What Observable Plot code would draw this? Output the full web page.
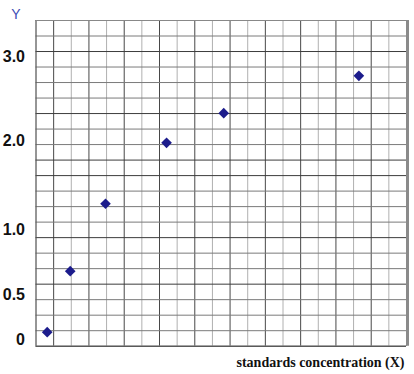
<!DOCTYPE html>
<html>
<head>
<meta charset="utf-8">
<script src="https://cdn.jsdelivr.net/npm/d3@7"></script>
<script src="https://cdn.jsdelivr.net/npm/@observablehq/plot@0.6"></script>
<style>
  html, body { margin: 0; padding: 0; background: #fff; }
  #chart svg { display: block; }
</style>
</head>
<body>
<div id="chart"></div>
<script>
// Standards concentration (x, in grid units) and measured response (y)
const xValues = [0.635, 1.94, 3.94, 7.40, 10.64, 18.30];
const yValues = [0.145, 0.776, 1.473, 2.103, 2.41, 2.796];

// Y tick labels as printed on the chart, at the heights where they appear
const yTickValues = [0.069, 0.535, 1.207, 2.127, 2.996];
const yTickLabels = ["0", "0.5", "1.0", "2.0", "3.0"];

const xTitle = "standards concentration (X)";
const yTitle = "Y";

const points = xValues.map((x, i) => ({x, y: yValues[i]}));

const X_CELLS = 21, Y_CELLS = 21, Y_MAX = 3.368;
const xGrid = d3.range(X_CELLS + 1);
const yGrid = d3.range(Y_CELLS + 1).map(i => i * Y_MAX / Y_CELLS);
const darkRows = new Set([4, 7, 11, 12, 15, 19]);

const chart = Plot.plot({
  width: 414,
  height: 374,
  marginLeft: 35.5,
  marginTop: 20,
  marginRight: 8,
  marginBottom: 28.3,
  style: {background: "#fff", fontFamily: "Liberation Sans, Arial, sans-serif"},
  x: {domain: [0, X_CELLS], axis: null},
  y: {domain: [0, Y_MAX], axis: null},
  marks: [
    // vertical grid lines
    Plot.ruleX(xGrid, {
      x: d => d,
      stroke: d => (d % 2 === 1 ? "#484848" : "#b0b0b0"),
      strokeWidth: 1
    }),
    // horizontal grid lines
    Plot.ruleY(yGrid, {
      y: d => d,
      stroke: (d, i) => (darkRows.has(i) ? "#3c3c3c" : "#7a7a7a"),
      strokeWidth: 1
    }),
    // frame edges
    Plot.ruleX([X_CELLS], {stroke: "#8a8a8a", strokeWidth: 3, dx: 1}),
    Plot.ruleX([0], {stroke: "#555", strokeWidth: 1}),
    Plot.ruleY([0], {stroke: "#3a3a3a", strokeWidth: 1}),
    Plot.ruleY([Y_MAX], {stroke: "#888", strokeWidth: 1}),
    // y tick labels
    Plot.axisY(yTickValues, {
      anchor: "left",
      tickSize: 0,
      tickPadding: 11,
      tickFormat: (d, i) => yTickLabels[i],
      fontSize: 16,
      fontWeight: "bold",
      fill: "#111",
      label: null
    }),
    // data points
    Plot.dot(points, {
      x: "x",
      y: "y",
      symbol: "diamond2",
      r: 4.8,
      fill: "#1c1c8c",
      stroke: "none"
    }),
    // axis titles
    Plot.text([yTitle], {
      frameAnchor: "top-left",
      dx: -20,
      dy: -6,
      textAnchor: "middle",
      lineAnchor: "middle",
      fontSize: 14,
      fill: "#3d4db5"
    }),
    Plot.text([xTitle], {
      frameAnchor: "bottom-right",
      dx: -2,
      dy: 16,
      textAnchor: "end",
      lineAnchor: "middle",
      fontSize: 14,
      fontWeight: "bold",
      fontFamily: "Liberation Serif, Times New Roman, serif",
      fill: "#111"
    })
  ]
});

document.getElementById("chart").appendChild(chart);
</script>
</body>
</html>
